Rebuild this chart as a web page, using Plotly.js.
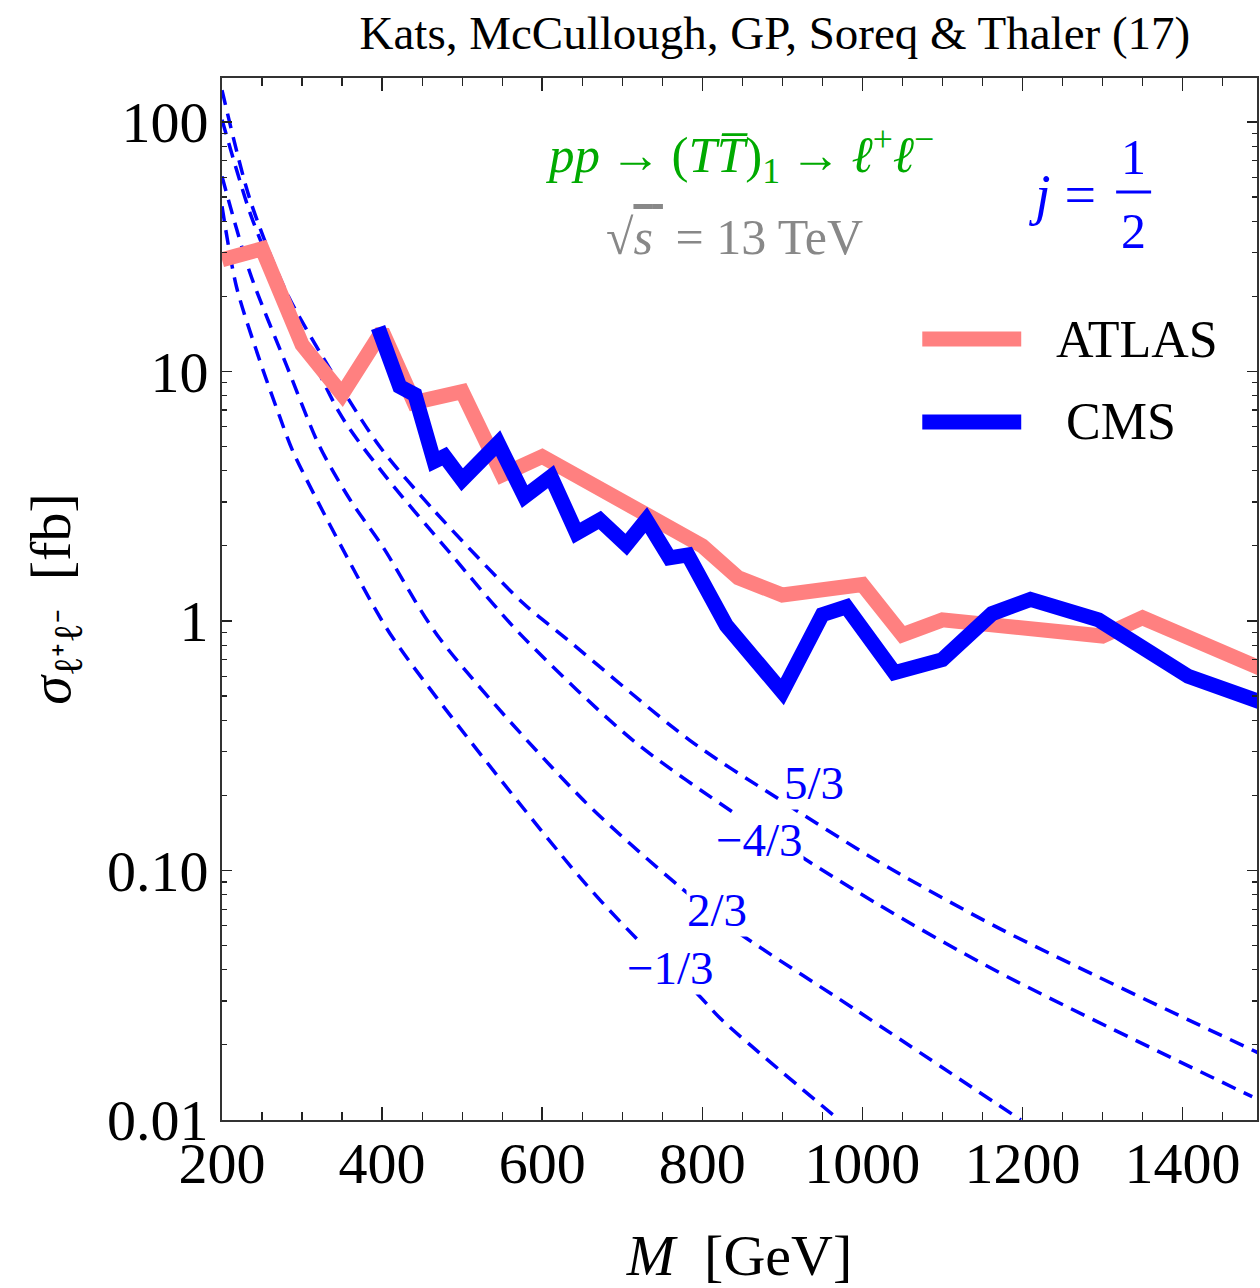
<!DOCTYPE html>
<html>
<head>
<meta charset="utf-8">
<script src="https://cdn.plot.ly/plotly-3.0.1.min.js"></script>
<style>html,body{margin:0;padding:0;background:#fff;}#chart{width:1260px;height:1288px;}</style>
</head>
<body>
<div id="chart"></div>
<script>
// ---- data ----
const massATLAS  = [200, 250, 300, 350, 400, 440, 500, 550, 600, 800, 845, 900, 1000, 1050, 1100, 1300, 1350, 1450, 1500];
const sigmaATLAS = [28, 31, 12.8, 8.1, 14.5, 7.5, 8.3, 3.85, 4.56, 2.0, 1.49, 1.27, 1.40, 0.88, 1.01, 0.87, 1.03, 0.75, 0.64];

const massCMS  = [395, 422, 441, 465, 478, 500, 545, 578, 611, 643, 672, 705, 730, 759, 782, 830, 900, 950, 980, 1040, 1100, 1162, 1210, 1295, 1407, 1500];
const sigmaCMS = [15.0, 8.7, 8.07, 4.36, 4.57, 3.68, 5.16, 3.15, 3.79, 2.25, 2.54, 2.02, 2.54, 1.79, 1.84, 0.96, 0.52, 1.06, 1.14, 0.62, 0.70, 1.07, 1.22, 1.01, 0.60, 0.47];

const massQ53  = [200, 235, 281, 343, 397, 464, 576, 630, 784, 897, 1017, 1171, 1496];
const sigmaQ53 = [134, 48.8, 20.6, 9.27, 5.0, 2.79, 1.18, 0.85, 0.333, 0.192, 0.110, 0.0586, 0.0185];

const massQm43  = [200, 235, 260, 347, 401, 485, 572, 713, 847, 1017, 1171, 1487];
const sigmaQm43 = [102, 43.2, 27.2, 6.8, 3.92, 1.87, 0.89, 0.333, 0.164, 0.074, 0.039, 0.0124];

const massQ23  = [200, 235, 281, 322, 360, 401, 472, 651, 772, 843, 992, 1198];
const sigmaQ23 = [60.5, 24.8, 10.5, 5.0, 3.06, 1.98, 0.85, 0.192, 0.086, 0.057, 0.0276, 0.010];

const massQm13  = [200, 218, 247, 272, 289, 360, 414, 647, 730, 793, 825, 971];
const sigmaQm13 = [45.9, 21.9, 11.1, 6.6, 4.75, 1.71, 0.85, 0.094, 0.0488, 0.0322, 0.0251, 0.010];

const chargeLabels = ['5/3', '\u22124/3', '2/3', '\u22121/3'];
const labelMass    = [940, 872, 818, 760];
const labelSigma   = [0.224, 0.133, 0.0695, 0.0405];

const xTickVals = [200, 400, 600, 800, 1000, 1200, 1400];
const yTickVals = [0.01, 0.1, 1, 10, 100];
const yTickText = ['0.01', '0.10', '1', '10', '100'];

// ---- styling ----
const SERIF = 'Liberation Serif, Times New Roman, serif';
const BLUE = '#0000FF', PINK = '#FF8080', GREEN = '#00AA00', GRAY = '#888888';

function dashed(x, y, name) {
  return {x: x, y: y, mode: 'lines', name: name, showlegend: false,
          line: {color: BLUE, width: 3.5, dash: '15px,9px', shape: 'spline', smoothing: 0.8},
          hoverinfo: 'x+y+name'};
}

const traces = [
  dashed(massQ53, sigmaQ53, 'Q = 5/3'),
  dashed(massQm43, sigmaQm43, 'Q = \u22124/3'),
  dashed(massQ23, sigmaQ23, 'Q = 2/3'),
  dashed(massQm13, sigmaQm13, 'Q = \u22121/3'),
  {x: massATLAS, y: sigmaATLAS, mode: 'lines', name: 'ATLAS', showlegend: false,
   line: {color: PINK, width: 15}},
  {x: massCMS, y: sigmaCMS, mode: 'lines', name: 'CMS', showlegend: false,
   line: {color: BLUE, width: 15}}
];

const annotations = [];
for (let i = 0; i < chargeLabels.length; i++) {
  annotations.push({x: labelMass[i], y: Math.log10(labelSigma[i]), xref: 'x', yref: 'y',
    text: chargeLabels[i], showarrow: false, font: {family: SERIF, size: 47, color: BLUE},
    bgcolor: 'white', borderpad: 0, xanchor: 'center', yanchor: 'middle'});
}
annotations.push(
  {xref: 'paper', yref: 'paper', x: 0.5, y: 0.926, showarrow: false, xanchor: 'center', yanchor: 'middle',
   text: '<i>pp</i>\u2009\u2192\u2009(<i>T</i><i>T\u0305</i>)<sub>1</sub>\u2009\u2192\u2009<i>\u2113</i><sup>+</sup><i>\u2113</i><sup>\u2212</sup>',
   font: {family: SERIF, size: 51, color: GREEN}},
  {xref: 'paper', yref: 'paper', x: 0.4952, y: 0.8474, showarrow: false, xanchor: 'center', yanchor: 'middle',
   text: '\u221A<span style="text-decoration:overline"><i>s</i>\u2009</span> = 13 TeV',
   font: {family: SERIF, size: 50, color: GRAY}},
  {xref: 'paper', yref: 'paper', x: 0.8118, y: 0.8877, showarrow: false, xanchor: 'center', yanchor: 'middle',
   text: '<i>j</i> =', font: {family: SERIF, size: 56, color: BLUE}},
  {xref: 'paper', yref: 'paper', x: 0.8803, y: 0.9242, showarrow: false, xanchor: 'center', yanchor: 'middle',
   text: '1', font: {family: SERIF, size: 50, color: BLUE}},
  {xref: 'paper', yref: 'paper', x: 0.8803, y: 0.8532, showarrow: false, xanchor: 'center', yanchor: 'middle',
   text: '2', font: {family: SERIF, size: 50, color: BLUE}},
  {xref: 'paper', yref: 'paper', x: 0.8041, y: 0.7495, showarrow: false, xanchor: 'left', yanchor: 'middle',
   text: 'ATLAS', font: {family: SERIF, size: 52, color: 'black'}},
  {xref: 'paper', yref: 'paper', x: 0.8137, y: 0.6699, showarrow: false, xanchor: 'left', yanchor: 'middle',
   text: 'CMS', font: {family: SERIF, size: 52, color: 'black'}}
);

const shapes = [
  {type: 'line', xref: 'paper', yref: 'paper', x0: 0.8639, x1: 0.8977, y0: 0.8906, y1: 0.8906,
   line: {color: BLUE, width: 3}},
  {type: 'line', xref: 'paper', yref: 'paper', x0: 0.6766, x1: 0.7722, y0: 0.7495, y1: 0.7495,
   line: {color: PINK, width: 15}},
  {type: 'line', xref: 'paper', yref: 'paper', x0: 0.6766, x1: 0.7722, y0: 0.6699, y1: 0.6699,
   line: {color: BLUE, width: 15}}
];

const axisCommon = {
  showgrid: false, zeroline: false, showline: true, linecolor: '#333', linewidth: 2,
  mirror: 'ticks', ticks: 'inside', tickcolor: '#222', tickwidth: 1.5,
  tickfont: {family: SERIF, size: 58, color: 'black'}
};

const layout = {
  width: 1260, height: 1288,
  margin: {l: 222, r: 3, t: 78, b: 168},
  paper_bgcolor: 'white', plot_bgcolor: 'white',
  showlegend: false,
  title: {text: 'Kats, McCullough, GP, Soreq &amp; Thaler (17)', xref: 'container', yref: 'container',
          x: 0.615, y: 0.975, xanchor: 'center', yanchor: 'middle',
          font: {family: SERIF, size: 47, color: 'black'}},
  xaxis: Object.assign({}, axisCommon, {
    range: [200, 1493], tickmode: 'array', tickvals: xTickVals, ticklen: 13,
    ticklabelstandoff: -9,
    minor: {dtick: 50, ticks: 'inside', ticklen: 8, tickcolor: '#222', tickwidth: 1.2},
    title: {text: '<i>M</i>  [GeV]', font: {family: SERIF, size: 58, color: 'black'}, standoff: 40}
  }),
  yaxis: Object.assign({}, axisCommon, {
    type: 'log', range: [-2, 2.176], tickmode: 'array', tickvals: yTickVals, ticktext: yTickText,
    ticklen: 10, ticklabelstandoff: 0,
    minor: {dtick: 'D1', ticks: 'inside', ticklen: 5, tickcolor: '#222', tickwidth: 1.2},
    title: {text: '<i>\u03C3</i><sub>\u2113\u207A\u2113\u207B</sub>  [fb]', font: {family: SERIF, size: 58, color: 'black'}, standoff: 18}
  }),
  annotations: annotations,
  shapes: shapes
};

Plotly.newPlot('chart', traces, layout, {displayModeBar: false, staticPlot: true});
</script>
</body>
</html>
